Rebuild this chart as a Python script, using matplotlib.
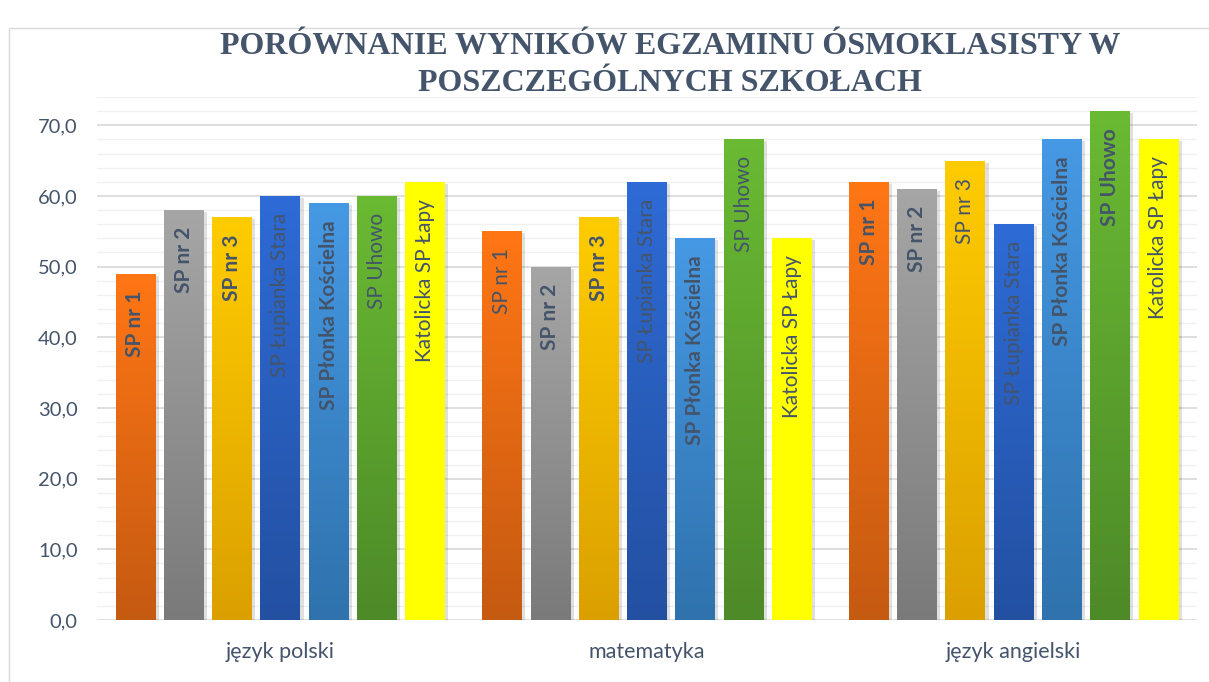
import matplotlib
matplotlib.use("Agg")
import matplotlib.pyplot as plt
import matplotlib.patheffects as pe
from matplotlib.colors import LinearSegmentedColormap
from matplotlib.patches import Rectangle
import numpy as np

# ── Data ───────────────────────────────────────────────────────────────────────
subjects = ["język polski", "matematyka", "język angielski"]
schools = ["SP nr 1", "SP nr 2", "SP nr 3", "SP Łupianka Stara",
           "SP Płonka Kościelna", "SP Uhowo", "Katolicka SP Łapy"]
scores = {
    "SP nr 1":             [49, 55, 62],
    "SP nr 2":             [58, 50, 61],
    "SP nr 3":             [57, 57, 65],
    "SP Łupianka Stara":   [60, 62, 56],
    "SP Płonka Kościelna": [59, 54, 68],
    "SP Uhowo":            [60, 68, 72],
    "Katolicka SP Łapy":   [62, 54, 68],
}
# which labels are bold in the original (per subject)
bold_labels = {
    "SP nr 1":             [True, False, True],
    "SP nr 2":             [True, True, True],
    "SP nr 3":             [True, True, False],
    "SP Łupianka Stara":   [False, False, False],
    "SP Płonka Kościelna": [True, True, True],
    "SP Uhowo":            [False, False, True],
    "Katolicka SP Łapy":   [False, False, False],
}
yticks = np.arange(0, 71, 10)

# ── Style ──────────────────────────────────────────────────────────────────────
# (top colour, bottom colour) of each bar gradient
GRADS = [
    ("#FF7615", "#C55A11"),
    ("#A6A6A6", "#7A7A7A"),
    ("#FFCC00", "#DBA000"),
    ("#2E6BD6", "#2350A1"),
    ("#4699E4", "#2F72AD"),
    ("#6ABA33", "#4D8A28"),
    ("#FFFF00", "#FFFF00"),
]
TEXT = "#44546A"
MAJOR = "#D9D9D9"
MINOR = "#F0F0F0"
plt.rcParams["font.family"] = ["Lato", "DejaVu Sans"]

fig = plt.figure(figsize=(12.09, 6.82), dpi=100, facecolor="white")
ax = fig.add_axes([0.0802, 0.0909, 0.9098, 0.7669])

# outer chart border
fig.patches.append(Rectangle((9 / 1209, -0.01), 1.0, 1 - 28 / 682 + 0.01,
                             transform=fig.transFigure, fill=False,
                             edgecolor="#D9D9D9", linewidth=1.0))

n = len(schools)
step = 0.1317
width = 0.108
x = np.arange(len(subjects))

for i, school in enumerate(schools):
    top, bottom = GRADS[i]
    cmap = LinearSegmentedColormap.from_list(f"g{i}", [bottom, top])
    offs = (i - (n - 1) / 2) * step
    bars = ax.bar(x + offs, scores[school], width=width, color=top, zorder=2,
                  path_effects=[pe.SimplePatchShadow(offset=(2.5, -1.5), alpha=0.12,
                                                     shadow_rgbFace="#000000"),
                                pe.Normal()])
    for j, bar in enumerate(bars):
        x0 = bar.get_x()
        h = bar.get_height()
        grad = np.linspace(0, 1, 256).reshape(-1, 1)
        im = ax.imshow(grad, extent=[x0, x0 + width, 0, h], origin="lower",
                       aspect="auto", cmap=cmap, zorder=2.5)
        im.set_clip_path(bar)
        ax.text(x0 + width / 2, h - 2.4, school, rotation=90, ha="center", va="top",
                fontsize=15, color=TEXT,
                fontweight="bold" if bold_labels[school][j] else "normal", zorder=4)

ax.set_xlim(-0.5, len(subjects) - 0.5)
ax.set_ylim(0, 74)
ax.set_yticks(yticks)
ax.set_yticklabels([f"{v:.1f}".replace(".", ",") for v in yticks])
ax.set_yticks(np.arange(0, 75, 2), minor=True)
ax.set_xticks(x)
ax.set_xticklabels(subjects)
ax.tick_params(axis="both", length=0, colors=TEXT)
ax.tick_params(axis="x", pad=16, labelsize=15.5)
ax.tick_params(axis="y", pad=14, labelsize=14.5)
ax.tick_params(which="minor", length=0)
ax.yaxis.grid(True, which="major", color=MAJOR, linewidth=1.2, zorder=0)
ax.yaxis.grid(True, which="minor", color=MINOR, linewidth=1.0, zorder=0)
ax.set_axisbelow(True)
for s in ax.spines.values():
    s.set_visible(False)

fig.text(0.554, 0.905, "PORÓWNANIE WYNIKÓW EGZAMINU ÓSMOKLASISTY W\nPOSZCZEGÓLNYCH SZKOŁACH",
         ha="center", va="center", fontsize=23, fontweight="bold", color=TEXT,
         family="Liberation Serif", linespacing=1.38)

fig.savefig("out.png", dpi=100, facecolor="white")
